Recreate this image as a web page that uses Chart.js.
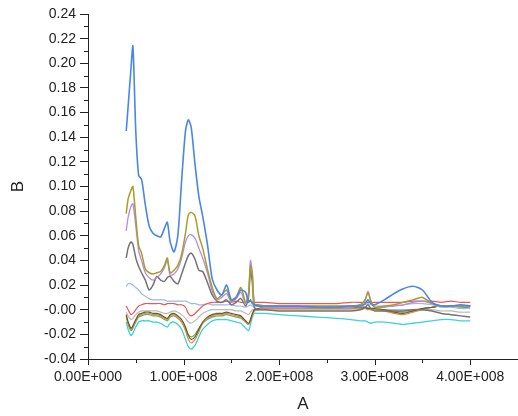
<!DOCTYPE html>
<html>
<head>
<meta charset="utf-8">
<script src="https://cdn.jsdelivr.net/npm/chart.js@4.4.1/dist/chart.umd.min.js"></script>
<style>
  html, body { margin: 0; padding: 0; background: #fff; }
  canvas { display: block; }
</style>
</head>
<body>
<canvas id="chart" width="518" height="416"></canvas>
<script>
// A positions, in millions
const aMillions = [40, 42, 45, 47, 50, 53, 56, 60, 64, 68, 72, 76, 80, 83, 86, 90, 94, 98, 102, 105,
  108, 112, 116, 120, 125, 130, 135, 140, 145, 150, 155, 160, 165, 168, 170, 172, 174, 178, 185, 200,
  220, 240, 260, 275, 285, 290, 293, 296, 300, 310, 320, 330, 340, 350, 360, 370, 380, 390, 400];

const blue = [0.145, 0.165, 0.196, 0.214, 0.145, 0.109, 0.106, 0.085, 0.068, 0.062, 0.060, 0.059, 0.066, 0.071, 0.055, 0.047,
  0.060, 0.105, 0.145, 0.154, 0.148, 0.118, 0.092, 0.076, 0.053, 0.025, 0.016, 0.012, 0.020, 0.008, 0.010, 0.016, 0.014, 0.006,
  0.008, 0.005, 0.004, 0.003, 0.003, 0.003, 0.003, 0.002, 0.002, 0.003, 0.003, 0.005, 0.008, 0.005, 0.004, 0.008, 0.013, 0.017,
  0.019, 0.016, 0.006, 0.003, 0.003, 0.004, 0.003];

const olive = [0.078, 0.090, 0.097, 0.100, 0.075, 0.052, 0.046, 0.033, 0.030, 0.029, 0.030, 0.031, 0.036, 0.042, 0.030, 0.032,
  0.036, 0.045, 0.062, 0.077, 0.079, 0.076, 0.060, 0.050, 0.033, 0.018, 0.009, 0.012, 0.016, 0.007, 0.010, 0.018, 0.006, 0.012,
  0.036, 0.028, 0.005, 0.004, 0.003, 0.003, 0.003, 0.003, 0.003, 0.003, 0.004, 0.008, 0.014, 0.007, 0.002, 0.003, 0.004, 0.006,
  0.008, 0.010, 0.005, 0.003, 0.003, 0.003, 0.003];

const violet = [0.064, 0.075, 0.084, 0.086, 0.068, 0.048, 0.040, 0.030, 0.026, 0.024, 0.026, 0.029, 0.034, 0.040, 0.028, 0.029,
  0.033, 0.042, 0.055, 0.060, 0.061, 0.058, 0.050, 0.042, 0.030, 0.015, 0.008, 0.010, 0.013, 0.006, 0.009, 0.014, 0.005, 0.014,
  0.040, 0.030, 0.005, 0.003, 0.002, 0.002, 0.002, 0.002, 0.002, 0.002, 0.004, 0.008, 0.015, 0.007, 0.002, 0.002, 0.003, 0.004,
  0.006, 0.007, 0.005, 0.003, 0.003, 0.003, 0.003];

const darkGray = [0.042, 0.050, 0.055, 0.053, 0.042, 0.035, 0.030, 0.024, 0.016, 0.020, 0.027, 0.024, 0.023, 0.026, 0.027, 0.023,
  0.021, 0.029, 0.038, 0.044, 0.046, 0.041, 0.032, 0.031, 0.022, 0.012, 0.007, 0.006, 0.008, 0.004, 0.006, 0.009, 0.003, 0.010,
  0.032, 0.022, 0.002, 0.000, 0.000, -0.001, -0.001, -0.001, -0.001, -0.001, 0.000, 0.002, 0.004, 0.001, -0.001, -0.001, -0.001,
  -0.001, 0.000, 0.000, -0.001, -0.003, -0.004, -0.005, -0.006];

const lightBlue = [0.019, 0.021, 0.021, 0.020, 0.018, 0.016, 0.013, 0.011, 0.009, 0.008, 0.008, 0.008, 0.008, 0.007, 0.007, 0.007,
  0.007, 0.007, 0.007, 0.006, 0.005, 0.005, 0.004, 0.004, 0.005, 0.004, 0.004, 0.004, 0.004, 0.004, 0.003, 0.003, 0.002, 0.003,
  0.004, 0.003, 0.003, 0.003, 0.003, 0.003, 0.003, 0.003, 0.003, 0.003, 0.003, 0.004, 0.005, 0.004, 0.003, 0.003, 0.003, 0.004,
  0.005, 0.005, 0.004, 0.002, 0.002, 0.001, 0.001];

const red = [0.003, 0.000, -0.004, -0.003, 0.000, 0.003, 0.004, 0.005, 0.005, 0.005, 0.005, 0.005, 0.004, 0.005, 0.005, 0.005,
  0.004, 0.004, 0.002, -0.003, -0.005, -0.003, 0.000, 0.003, 0.005, 0.006, 0.006, 0.006, 0.007, 0.006, 0.007, 0.006, 0.006, 0.007,
  0.007, 0.006, 0.006, 0.006, 0.006, 0.005, 0.005, 0.005, 0.005, 0.006, 0.006, 0.006, 0.006, 0.006, 0.006, 0.006, 0.006, 0.006,
  0.007, 0.007, 0.007, 0.006, 0.007, 0.006, 0.006];

const lightGray = [-0.002, -0.005, -0.008, -0.007, -0.004, -0.002, -0.001, -0.001, -0.001, -0.001, -0.001, -0.002, -0.003, -0.003,
  -0.002, -0.001, -0.002, -0.004, -0.007, -0.010, -0.011, -0.009, -0.006, -0.003, -0.001, 0.000, 0.000, 0.000, 0.000, 0.000, -0.001,
  -0.001, -0.003, -0.004, -0.002, 0.000, 0.000, 0.000, 0.000, 0.000, 0.000, 0.000, 0.000, 0.000, 0.000, 0.001, 0.002, 0.001, 0.000,
  0.000, 0.000, 0.000, 0.000, 0.000, 0.000, -0.001, -0.001, -0.002, -0.002];

const brown = [-0.004, -0.010, -0.015, -0.013, -0.008, -0.004, -0.003, -0.002, -0.002, -0.003, -0.003, -0.004, -0.006, -0.007,
  -0.004, -0.003, -0.005, -0.008, -0.014, -0.021, -0.024, -0.022, -0.016, -0.010, -0.006, -0.004, -0.003, -0.003, -0.002, -0.003,
  -0.004, -0.005, -0.009, -0.011, -0.008, -0.003, 0.000, 0.001, 0.002, 0.002, 0.002, 0.002, 0.002, 0.002, 0.002, 0.002, 0.001,
  0.001, 0.001, 0.000, -0.002, -0.003, -0.001, 0.001, 0.002, 0.003, 0.003, 0.003, 0.003];

const orange = [-0.005, -0.011, -0.016, -0.014, -0.009, -0.005, -0.004, -0.003, -0.003, -0.004, -0.004, -0.005, -0.007, -0.008,
  -0.005, -0.004, -0.006, -0.010, -0.017, -0.024, -0.027, -0.024, -0.018, -0.011, -0.007, -0.005, -0.004, -0.004, -0.003, -0.004,
  -0.005, -0.006, -0.010, -0.012, -0.009, -0.004, -0.001, 0.000, 0.001, 0.001, 0.001, 0.001, 0.001, 0.001, 0.001, 0.001, 0.000,
  0.000, 0.000, -0.001, -0.003, -0.004, -0.002, 0.000, 0.002, 0.003, 0.003, 0.003, 0.003];

const green = [-0.006, -0.012, -0.017, -0.015, -0.010, -0.006, -0.005, -0.004, -0.004, -0.005, -0.005, -0.006, -0.008, -0.009,
  -0.006, -0.005, -0.007, -0.010, -0.015, -0.020, -0.022, -0.020, -0.015, -0.011, -0.008, -0.006, -0.005, -0.005, -0.004, -0.005,
  -0.006, -0.007, -0.010, -0.012, -0.009, -0.004, -0.001, 0.000, 0.001, 0.001, 0.001, 0.001, 0.001, 0.001, 0.001, 0.001, 0.001,
  0.000, 0.000, 0.000, -0.001, -0.002, -0.001, 0.001, 0.002, 0.003, 0.003, 0.002, 0.002];

const cyan = [-0.010, -0.016, -0.021, -0.019, -0.014, -0.010, -0.009, -0.009, -0.009, -0.010, -0.010, -0.011, -0.013, -0.014,
  -0.011, -0.010, -0.012, -0.016, -0.024, -0.030, -0.032, -0.029, -0.022, -0.016, -0.012, -0.009, -0.008, -0.008, -0.008, -0.009,
  -0.010, -0.011, -0.015, -0.017, -0.012, -0.006, -0.003, -0.003, -0.003, -0.004, -0.005, -0.006, -0.007, -0.008, -0.009, -0.009,
  -0.010, -0.011, -0.010, -0.010, -0.011, -0.012, -0.011, -0.010, -0.009, -0.008, -0.008, -0.009, -0.009];

// first entry is drawn on top
const series = [
  { data: blue, color: 'rgb(72,134,234)', width: 1.6 },
  { data: olive, color: 'rgb(165,160,40)', width: 1.5 },
  { data: violet, color: 'rgb(185,135,235)', width: 1.3 },
  { data: darkGray, color: 'rgb(115,115,115)', width: 1.5 },
  { data: red, color: 'rgb(240,85,85)', width: 1.2 },
  { data: lightBlue, color: 'rgb(155,185,232)', width: 1.2 },
  { data: brown, color: 'rgb(110,90,40)', width: 1.2 },
  { data: orange, color: 'rgb(225,140,55)', width: 1.2 },
  { data: green, color: 'rgb(90,175,125)', width: 1.2 },
  { data: lightGray, color: 'rgb(185,185,185)', width: 1.2 },
  { data: cyan, color: 'rgb(60,210,215)', width: 1.3 }
];

const axisColor = '#222';
const tickFont = { family: 'Liberation Sans, Arial, sans-serif', size: 14 };

function sciLabel(v) {
  if (v === 0) return '0.00E+000';
  const exp = Math.floor(Math.log10(Math.abs(v)));
  const mant = v / Math.pow(10, exp);
  return mant.toFixed(2) + 'E+' + String(exp).padStart(3, '0');
}

// x ticks (major and minor) and the short minor ticks on y
const axisTicks = {
  id: 'axisTicks',
  afterDraw(chart) {
    const { ctx, scales: { x, y } } = chart;
    ctx.save();
    ctx.strokeStyle = axisColor;
    ctx.lineWidth = 1;
    ctx.beginPath();
    y.ticks.forEach((t, i) => {
      if (i % 2 === 0) return;
      const py = Math.round(y.getPixelForValue(t.value)) + 0.5;
      ctx.moveTo(y.right - 4, py);
      ctx.lineTo(y.right, py);
    });
    x.ticks.forEach((t, i) => {
      const px = Math.round(x.getPixelForValue(t.value)) + 0.5;
      ctx.moveTo(px, x.top);
      ctx.lineTo(px, x.top + (i % 2 ? 4 : 6));
    });
    ctx.stroke();
    ctx.restore();
  }
};

const majorOnly = ctx => (ctx.index % 2 === 0 ? axisColor : 'rgba(0,0,0,0)');

new Chart(document.getElementById('chart'), {
  type: 'line',
  data: {
    datasets: series.map(s => ({
      data: aMillions.map((a, i) => ({ x: a * 1e6, y: s.data[i] })),
      borderColor: s.color,
      borderWidth: s.width,
      pointRadius: 0,
      tension: 0.25,
      fill: false
    }))
  },
  options: {
    responsive: false,
    animation: false,
    layout: { padding: { top: 14, right: 0, left: 0, bottom: 0 } },
    plugins: { legend: { display: false }, tooltip: { enabled: false } },
    scales: {
      x: {
        type: 'linear',
        min: 0,
        max: 4.5e8,
        afterFit: scale => { scale.height = 57; },
        border: { display: true, color: axisColor, width: 1 },
        grid: { drawOnChartArea: false, tickLength: 10, tickColor: 'rgba(0,0,0,0)' },
        ticks: {
          stepSize: 5e7,
          autoSkip: false,
          maxRotation: 0,
          padding: 0,
          color: axisColor,
          font: tickFont,
          callback: (v, i) => (i % 2 ? '' : sciLabel(v))
        },
        title: {
          display: true,
          text: 'A',
          color: axisColor,
          font: { family: 'Liberation Sans, Arial, sans-serif', size: 17 },
          padding: { top: 0, bottom: 1 }
        }
      },
      y: {
        min: -0.04,
        max: 0.24,
        afterFit: scale => { scale.width = 88; },
        border: { display: true, color: axisColor, width: 1 },
        grid: { drawOnChartArea: false, tickLength: 8, tickColor: majorOnly },
        ticks: {
          stepSize: 0.01,
          autoSkip: false,
          padding: 4,
          color: axisColor,
          font: tickFont,
          callback: (v, i) => (i % 2 ? '' : v.toFixed(2))
        },
        title: {
          display: true,
          text: 'B',
          color: axisColor,
          font: { family: 'Liberation Sans, Arial, sans-serif', size: 17 },
          padding: { top: 8, bottom: 0 }
        }
      }
    }
  },
  plugins: [axisTicks]
});
</script>
</body>
</html>
